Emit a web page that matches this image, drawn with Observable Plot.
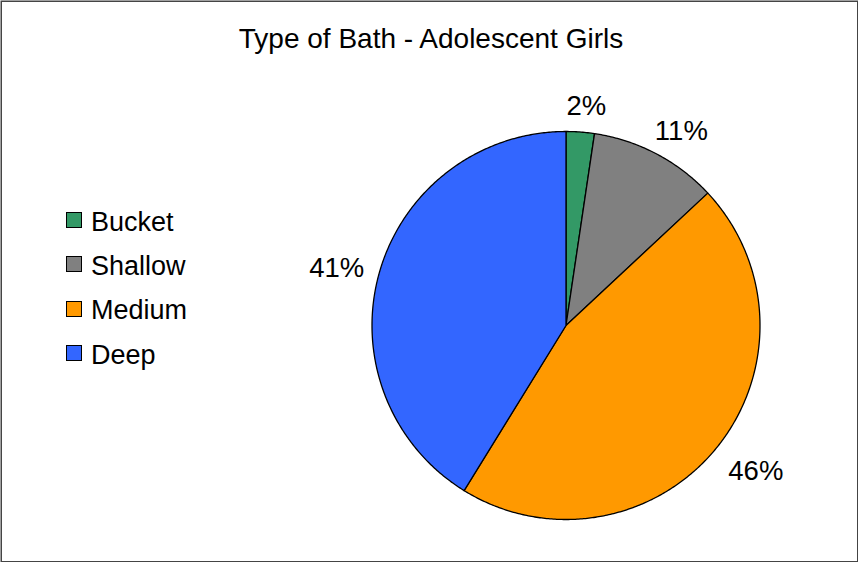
<!DOCTYPE html>
<html>
<head>
<meta charset="utf-8">
<script src="https://cdn.jsdelivr.net/npm/d3@7"></script>
<script src="https://cdn.jsdelivr.net/npm/@observablehq/plot@0.6"></script>
<style>
  body { margin: 0; background: #fff; }
  #wrap { position: relative; width: 858px; height: 562px; font-family: "Liberation Sans", Arial, sans-serif; color: #000; overflow: hidden; }
  #chart { position: absolute; left: 0; top: 0; }
  #title { position: absolute; left: 0; width: 862px; top: 25px; text-align: center; font-size: 28px; line-height: 28px; white-space: nowrap; }
  #legend { position: absolute; left: 66px; top: 198px; }
  .row { display: flex; align-items: center; height: 44.3px; }
  .sw { width: 14px; height: 14px; border: 1px solid #000; box-sizing: content-box; }
  .lab { margin-left: 9px; font-size: 27px; line-height: 30px; position: relative; top: 1.5px; }
</style>
</head>
<body>
<div id="wrap">
  <div id="chart"></div>
  <div id="title"></div>
  <div id="legend"></div>
</div>
<script>
const title = "Type of Bath - Adolescent Girls";
const categories = ["Bucket", "Shallow", "Medium", "Deep"];
const values = [2.35, 10.7, 45.75, 41.2];
const labels = ["2%", "11%", "46%", "41%"];
const colors = ["#339966", "#808080", "#FF9900", "#3366FF"];

// layout
const W = 858, H = 562;
const cx = 565.5, cy = 325, R = 194;
const labelSize = 27.5, gap = 20;

const arcs = d3.pie().sort(null).value(d => d)(values);

// slice outlines (unit circle coordinates) from the pie angles
const slicePts = [];
arcs.forEach((a, i) => {
  const n = Math.max(2, Math.ceil((a.endAngle - a.startAngle) / (Math.PI / 360)));
  slicePts.push({cat: categories[i], x: 0, y: 0});
  for (let k = 0; k <= n; k++) {
    const t = a.startAngle + (a.endAngle - a.startAngle) * k / n;
    slicePts.push({cat: categories[i], x: Math.sin(t), y: Math.cos(t)});
  }
});

// outside-end labels: box pushed outward so it touches a circle just outside the pie
const labelPts = arcs.map((a, i) => {
  const m = (a.startAngle + a.endAngle) / 2;
  const s = Math.sin(m), c = Math.cos(m);
  const txt = labels[i];
  const w = labelSize * (0.556 * (txt.length - 1) + 0.889);
  const h = labelSize * 0.72;
  const px = (R + gap) * s + (w / 2) * s;
  const py = (R + gap) * c + (h / 2) * c;
  return {label: txt, x: px / R, y: py / R};
});

const plot = Plot.plot({
  width: W,
  height: H,
  margin: 0,
  x: {domain: [-1, 1], range: [cx - R, cx + R], axis: null},
  y: {domain: [-1, 1], range: [cy + R, cy - R], axis: null},
  color: {domain: categories, range: colors},
  style: {background: "transparent", fontFamily: "Liberation Sans, Arial, sans-serif"},
  marks: [
    Plot.frame({stroke: "#444", strokeWidth: 1.5, inset: 0.75}),
    Plot.line(slicePts, {x: "x", y: "y", z: "cat", fill: "cat", stroke: "#000", strokeWidth: 1.3, curve: "linear-closed", strokeLinejoin: "round"}),
    Plot.text(labelPts, {x: "x", y: "y", text: "label", fontSize: labelSize, fill: "#000", textAnchor: "middle", lineAnchor: "middle", dx: 3, dy: 4, fontFamily: "Liberation Sans, Arial, sans-serif"})
  ]
});
document.getElementById("chart").appendChild(plot);

document.getElementById("title").textContent = title;
const leg = document.getElementById("legend");
categories.forEach((c, i) => {
  const row = document.createElement("div");
  row.className = "row";
  const sw = document.createElement("div");
  sw.className = "sw";
  sw.style.background = colors[i];
  const lab = document.createElement("div");
  lab.className = "lab";
  lab.textContent = c;
  row.appendChild(sw);
  row.appendChild(lab);
  leg.appendChild(row);
});
</script>
</body>
</html>
